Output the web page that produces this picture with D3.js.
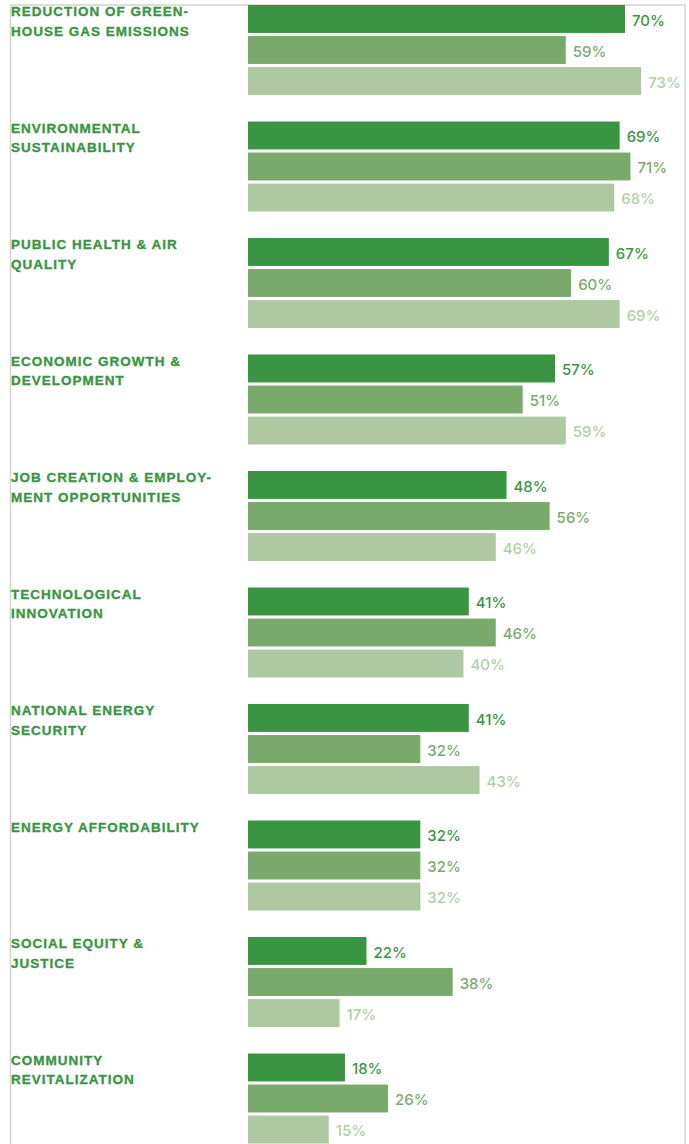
<!DOCTYPE html>
<html>
<head>
<meta charset="utf-8">
<script src="https://cdn.jsdelivr.net/npm/d3@7"></script>
<style>
  html, body { margin: 0; padding: 0; background: #fff; }
  svg { display: block; }
</style>
</head>
<body>
<div id="chart"></div>
<script>
// categories, each one with its line breaks as printed
var categories = [
    ['REDUCTION OF GREEN-', 'HOUSE GAS EMISSIONS'],
    ['ENVIRONMENTAL', 'SUSTAINABILITY'],
    ['PUBLIC HEALTH & AIR', 'QUALITY'],
    ['ECONOMIC GROWTH &', 'DEVELOPMENT'],
    ['JOB CREATION & EMPLOY-', 'MENT OPPORTUNITIES'],
    ['TECHNOLOGICAL', 'INNOVATION'],
    ['NATIONAL ENERGY', 'SECURITY'],
    ['ENERGY AFFORDABILITY'],
    ['SOCIAL EQUITY &', 'JUSTICE'],
    ['COMMUNITY', 'REVITALIZATION']
];

var series_names = ['s1', 's2', 's3'];

var series_1 = [70, 69, 67, 57, 48, 41, 41, 32, 22, 18];
var series_2 = [59, 71, 60, 51, 56, 46, 32, 32, 38, 26];
var series_3 = [73, 68, 69, 59, 46, 40, 43, 32, 17, 15];

var bar_colors   = ['#3a9542', '#79aa6c', '#aec9a2'];
var label_colors = ['#3a9542', '#7aab6e', '#b2cfa8'];

var width = 689;
var height = 1144;

var frame = { left: 10.5, right: 685, top: 5 };
var bar_left = 248;
var group_top = 5;
var group_step = 116.5;
var group_inner = 90;

var rows = categories.map(function(c, i) {
    return {
        id: 'cat_' + i,
        lines: c,
        values: [series_1[i], series_2[i], series_3[i]]
    };
});

var svg = d3.select('#chart')
    .append('svg')
    .attr('width', width)
    .attr('height', height);

var x = d3.scaleLinear()
    .domain([0, 100])
    .range([bar_left, bar_left + 538.6]);

var y0 = d3.scaleBand()
    .domain(rows.map(function(d) { return d.id; }))
    .range([group_top, group_top + group_step * rows.length])
    .paddingInner(0);

var y1 = d3.scaleBand()
    .domain(series_names)
    .range([0, group_inner])
    .paddingInner(0.1);

// frame
svg.append('path')
    .attr('d', `M${frame.left},${height} V${frame.top} H${frame.right} V${height}`)
    .attr('fill', 'none')
    .attr('stroke', '#d4d4d4')
    .attr('stroke-width', 1.5);

var groups = svg.selectAll('g.group')
    .data(rows)
    .enter()
    .append('g')
    .attr('class', 'group')
    .attr('transform', function(d) { return `translate(0, ${y0(d.id)})`; });

// category labels
groups.append('text')
    .attr('x', 11)
    .attr('y', 11)
    .style('font-family', '"Liberation Sans", Arial, sans-serif')
    .style('font-weight', 700)
    .style('font-size', '13.5px')
    .style('letter-spacing', '1px')
    .style('fill', '#3a9542')
    .style('stroke', '#3a9542')
    .style('stroke-width', 0.35)
    .selectAll('tspan')
    .data(function(d) { return d.lines; })
    .enter()
    .append('tspan')
    .attr('x', 11)
    .attr('dy', function(d, i) { return i === 0 ? 0 : 19.5; })
    .text(function(d) { return d; });

var bars = groups.selectAll('g.bar')
    .data(function(d) {
        return d.values.map(function(v, i) { return { key: series_names[i], i: i, value: v }; });
    })
    .enter()
    .append('g')
    .attr('class', 'bar');

bars.append('rect')
    .attr('x', x(0))
    .attr('y', function(d) { return y1(d.key); })
    .attr('width', function(d) { return x(d.value) - x(0); })
    .attr('height', y1.bandwidth())
    .attr('fill', function(d) { return bar_colors[d.i]; });

bars.append('text')
    .attr('x', function(d) { return x(d.value) + 7; })
    .attr('y', function(d) { return y1(d.key) + y1.bandwidth() / 2; })
    .attr('dy', '0.45em')
    .style('font-family', 'Inter, "Noto Sans", sans-serif')
    .style('font-weight', 500)
    .style('font-size', '15px')
    .style('fill', function(d) { return label_colors[d.i]; })
    .text(function(d) { return d.value + '%'; });
</script>
</body>
</html>
